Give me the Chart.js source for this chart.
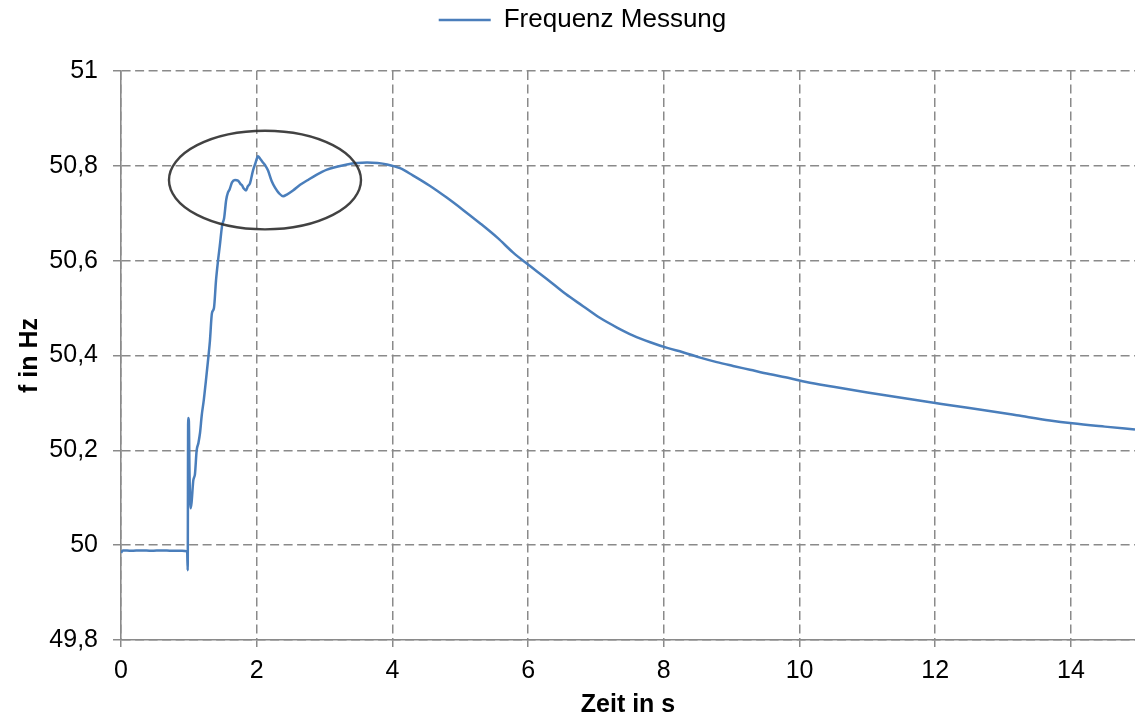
<!DOCTYPE html>
<html lang="de">
<head>
<meta charset="utf-8">
<title>Frequenz Messung</title>
<script src="https://cdn.jsdelivr.net/npm/chart.js@4/dist/chart.umd.min.js"></script>
<style>
  html, body { margin: 0; padding: 0; background: #ffffff; }
  #wrap { width: 1135px; height: 721px; }
</style>
</head>
<body>
<div id="wrap"><canvas id="chart" width="1135" height="721"></canvas></div>
<script>
// Zeitachse in Sekunden
const zeit = [
  0.00, 0.03, 0.15, 0.30, 0.45, 0.60, 0.75, 0.90, 0.975, 0.983,
  0.990, 1.000, 1.010, 1.025, 1.040, 1.066, 1.090, 1.115, 1.140, 1.164,
  1.190, 1.220, 1.250, 1.290, 1.310, 1.340, 1.370, 1.400, 1.430, 1.455,
  1.490, 1.520, 1.550, 1.577, 1.600, 1.636, 1.680, 1.724, 1.760, 1.783,
  1.810, 1.842, 1.870, 1.901, 1.945, 1.980, 2.019, 2.050, 2.093, 2.130,
  2.167, 2.220, 2.270, 2.330, 2.388, 2.450, 2.535, 2.640, 2.741, 2.880,
  3.036, 3.180, 3.331, 3.480, 3.626, 3.780, 3.920, 4.112, 4.300, 4.550,
  4.800, 5.050, 5.290, 5.550, 5.780, 5.980, 6.280, 6.550, 6.810, 7.050,
  7.310, 7.550, 7.800, 8.050, 8.280, 8.550, 8.780, 9.020, 9.270, 9.550,
  9.860, 10.10, 10.50, 11.00, 11.50, 12.00, 12.22, 12.70, 13.20, 13.69,
  14.02, 14.50, 14.944
];

// Gemessene Netzfrequenz in Hz
const frequenz = [
  49.984, 49.989, 49.988, 49.989, 49.988, 49.989, 49.988, 49.988, 49.987, 49.947,
  50.268, 50.262, 50.150, 50.078, 50.090, 50.137, 50.150, 50.200, 50.215, 50.236,
  50.274, 50.306, 50.345, 50.400, 50.430, 50.489, 50.500, 50.558, 50.600, 50.630,
  50.674, 50.690, 50.728, 50.744, 50.750, 50.765, 50.770, 50.769, 50.762, 50.759,
  50.752, 50.748, 50.757, 50.763, 50.790, 50.805, 50.820, 50.815, 50.807, 50.800,
  50.790, 50.768, 50.754, 50.742, 50.736, 50.740, 50.748, 50.760, 50.769, 50.781,
  50.792, 50.798, 50.803, 50.806, 50.807, 50.806, 50.803, 50.795, 50.780, 50.758,
  50.733, 50.706, 50.679, 50.648, 50.617, 50.594, 50.561, 50.530, 50.504, 50.480,
  50.459, 50.442, 50.428, 50.416, 50.407, 50.395, 50.386, 50.378, 50.370, 50.361,
  50.352, 50.344, 50.334, 50.322, 50.311, 50.300, 50.295, 50.285, 50.274, 50.263,
  50.257, 50.250, 50.244
];

// Achsenteilung und Beschriftungen
const xTickValues = [0, 2, 4, 6, 8, 10, 12, 14];
const xTickLabels = ['0', '2', '4', '6', '8', '10', '12', '14'];
const yTickValues = [49.8, 50.0, 50.2, 50.4, 50.6, 50.8, 51.0];
const yTickLabels = ['49,8', '50', '50,2', '50,4', '50,6', '50,8', '51'];

// Markierte Schwingung: Mittelpunkt und Halbachsen in Achseneinheiten
const markCenter = [2.122, 50.770];
const markRadius = [1.415, 0.104];

const FONT = "'Liberation Sans', Arial, sans-serif";
const GRID = '#8a8a8a';
const LINE = '#4a7ebb';
const DASH = [9, 4.5];

const punkte = zeit.map((t, i) => ({ x: t, y: frequenz[i] }));

// Legende an den oberen Rand rücken, etwas nach rechts versetzt
const legendPlacement = {
  id: 'legendPlacement',
  afterLayout(chart) {
    const lg = chart.legend;
    if (!lg) return;
    const dy = lg.top;
    const dx = 15;
    lg.top -= dy; lg.bottom -= dy;
    lg.left += dx; lg.right += dx;
  }
};

// Ellipse um den Überschwinger
const ellipsePlugin = {
  id: 'markEllipse',
  afterDatasetsDraw(chart) {
    const { ctx, scales: { x, y } } = chart;
    const cx = x.getPixelForValue(markCenter[0]);
    const cy = y.getPixelForValue(markCenter[1]);
    const rx = x.getPixelForValue(markCenter[0] + markRadius[0]) - cx;
    const ry = cy - y.getPixelForValue(markCenter[1] + markRadius[1]);
    ctx.save();
    ctx.beginPath();
    ctx.ellipse(cx, cy, rx, ry, 0, 0, Math.PI * 2);
    ctx.strokeStyle = 'rgba(45,45,45,0.9)';
    ctx.lineWidth = 2.4;
    ctx.stroke();
    ctx.restore();
  }
};

new Chart(document.getElementById('chart'), {
  type: 'line',
  data: {
    datasets: [{
      label: 'Frequenz Messung',
      data: punkte,
      borderColor: LINE,
      backgroundColor: LINE,
      borderWidth: 2.5,
      pointRadius: 0,
      cubicInterpolationMode: 'monotone',
      fill: false
    }]
  },
  options: {
    responsive: false,
    animation: false,
    devicePixelRatio: 1,
    layout: { padding: 0 },
    plugins: {
      tooltip: { enabled: false },
      legend: {
        display: true,
        position: 'top',
        labels: {
          usePointStyle: true,
          pointStyle: 'line',
          pointStyleWidth: 52,
          padding: 7,
          color: '#000000',
          font: { family: FONT, size: 26 }
        }
      }
    },
    scales: {
      x: {
        type: 'linear',
        min: 0,
        max: 14.944,
        afterBuildTicks(s) { s.ticks = xTickValues.map(v => ({ value: v })); },
        afterFit(s) { s.height = 81; s.paddingLeft = 0; s.paddingRight = 0; },
        ticks: {
          color: '#000000',
          padding: 9,
          maxRotation: 0,
          font: { family: FONT, size: 25 },
          callback: (v, i) => xTickLabels[i]
        },
        grid: {
          color: GRID,
          lineWidth: 1.5,
          drawTicks: true,
          tickLength: 7,
          tickColor: GRID,
          tickWidth: 1.5,
          tickBorderDash: []
        },
        border: { display: true, color: GRID, width: 1.6, dash: DASH },
        title: {
          display: true,
          text: 'Zeit in s',
          color: '#000000',
          padding: { top: 1, bottom: 1 },
          font: { family: FONT, size: 25, weight: 'bold' }
        }
      },
      y: {
        type: 'linear',
        min: 49.8,
        max: 51,
        afterBuildTicks(s) { s.ticks = yTickValues.map(v => ({ value: v })); },
        afterFit(s) { s.width = 121; s.paddingTop = 71; },
        ticks: {
          color: '#000000',
          padding: 15,
          font: { family: FONT, size: 25 },
          callback: (v, i) => yTickLabels[i]
        },
        grid: {
          color: GRID,
          lineWidth: 1.5,
          drawTicks: true,
          tickLength: 8,
          tickColor: GRID,
          tickWidth: 1.5,
          tickBorderDash: []
        },
        border: { display: true, color: GRID, width: 1.6, dash: DASH },
        title: {
          display: true,
          text: 'f in Hz',
          color: '#000000',
          padding: { top: 15, bottom: 15 },
          font: { family: FONT, size: 25, weight: 'bold' }
        }
      }
    }
  },
  plugins: [legendPlacement, ellipsePlugin]
});
</script>
</body>
</html>
